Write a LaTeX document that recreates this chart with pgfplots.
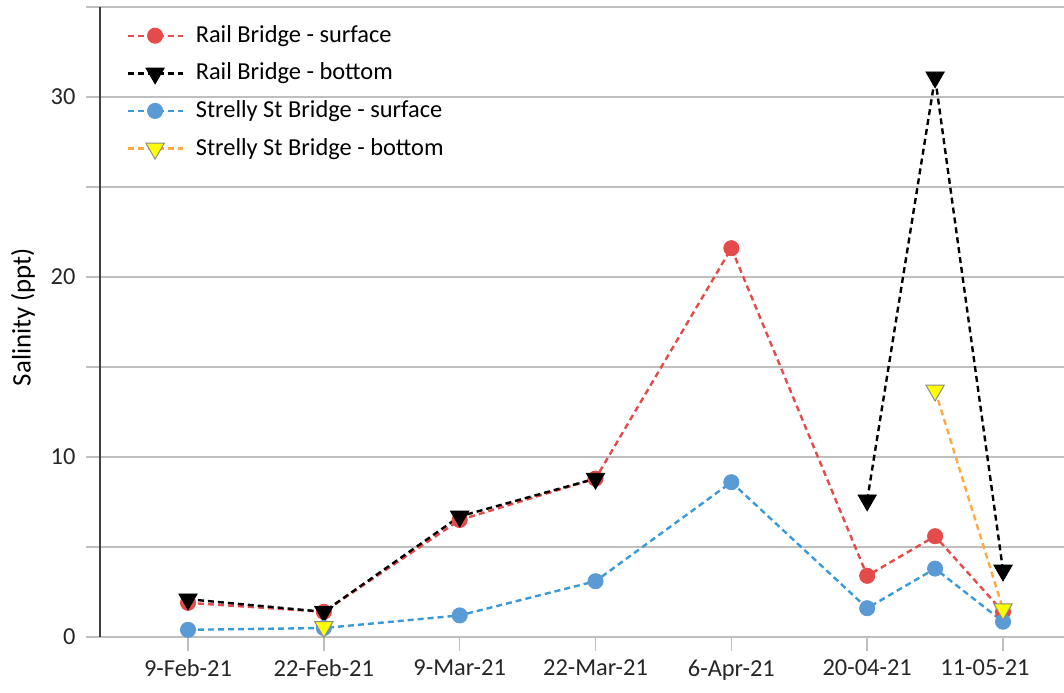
\documentclass[border=0pt]{standalone}
\usepackage{fontspec}
\setmainfont{Carlito}
\usepackage{pgfplots}
\pgfplotsset{compat=1.18}
\definecolor{cred}{HTML}{E64B4B}
\definecolor{cblue}{HTML}{5B9BD5}
\definecolor{cblueline}{HTML}{3A9AD9}
\definecolor{corange}{HTML}{FFAA40}
\definecolor{cyellow}{HTML}{FFFF00}
\definecolor{cgrid}{HTML}{BFBFBF}
\definecolor{ctext}{HTML}{262626}
\begin{document}
\fontsize{12.2}{14.6}\selectfont
\begin{tikzpicture}
\useasboundingbox (0,0) rectangle (532pt,346pt);
\begin{axis}[
  at={(50pt,27.5pt)}, anchor=south west,
  scale only axis, width=482pt, height=315pt,
  xmin=-0.648, xmax=6.449, ymin=0, ymax=35,
  axis x line*=bottom, axis y line*=left,
  x axis line style={-, draw=cgrid, line width=0.75pt},
  y axis line style={-, draw=black!75, line width=0.9pt},
  xtick={0,1,2,3,4,5,6},
  xticklabels={9-Feb-21,22-Feb-21,9-Mar-21,22-Mar-21,6-Apr-21,20-04-21,{\hspace*{-18pt}11-05-21}},
  ytick={0,5,10,15,20,25,30,35},
  yticklabels={0,,10,,20,,30,},
  tick align=outside, major tick length=7pt,
  tick style={draw=cgrid, line width=0.75pt},
  ymajorgrids, grid style={draw=cgrid, line width=0.75pt},
  /pgf/number format/assume math mode=true,
  ticklabel style={font=\fontsize{12.2}{14.6}\selectfont, text=ctext},
  yticklabel style={xshift=-1pt},
  ylabel={Salinity (ppt)},
  ylabel style={at={(axis description cs:-0.080,0.508)}, anchor=center, font=\fontsize{13.4}{16}\selectfont, text=black},
  unbounded coords=jump,
  legend cell align=left,
  legend style={at={(axis description cs:0,1)}, anchor=north west, xshift=10pt, yshift=-5pt,
    draw=none, fill=none, font=\fontsize{12.2}{14.6}\selectfont, row sep=4.5pt,
    /tikz/every odd column/.append style={column sep=4pt}},
  legend image code/.code={\draw[mark repeat=2,mark phase=2] plot coordinates {(0pt,0pt) (13.75pt,0pt) (27.5pt,0pt)};},
  every axis plot/.append style={line width=1.2pt, dash pattern=on 3pt off 2pt},
]
\addplot[color=cred, mark=*, mark size=3.8pt, mark options={solid, fill=cred, draw=cred, line width=0.4pt}]
  coordinates {(0,1.9) (1,1.4) (2,6.5) (3,8.8) (4,21.6) (5,3.4) (5.5,5.6) (6,1.4)};
\addlegendentry{Rail Bridge - surface}
\addplot[color=black, mark=triangle*, mark size=5.3pt, mark options={solid, rotate=180, fill=black, draw=black, line width=0.4pt}]
  coordinates {(0,2.1) (1,1.4) (2,6.7) (3,8.8) (4,nan) (5,7.6) (5.5,31.1) (6,3.7)};
\addlegendentry{Rail Bridge - bottom}
\addplot[color=cblueline, mark=*, mark size=3.8pt, mark options={solid, fill=cblue, draw=cblue, line width=0.4pt}]
  coordinates {(0,0.4) (1,0.5) (2,1.2) (3,3.1) (4,8.6) (5,1.6) (5.5,3.8) (6,0.85)};
\addlegendentry{Strelly St Bridge - surface}
\addplot[color=corange, mark=triangle*, mark size=5.3pt, mark options={solid, rotate=180, fill=cyellow, draw=black!45, line width=0.5pt}]
  coordinates {(1,0.56) (2,nan) (5.5,13.7) (6,1.55)};
\addlegendentry{Strelly St Bridge - bottom}
\end{axis}
\end{tikzpicture}
\end{document}
